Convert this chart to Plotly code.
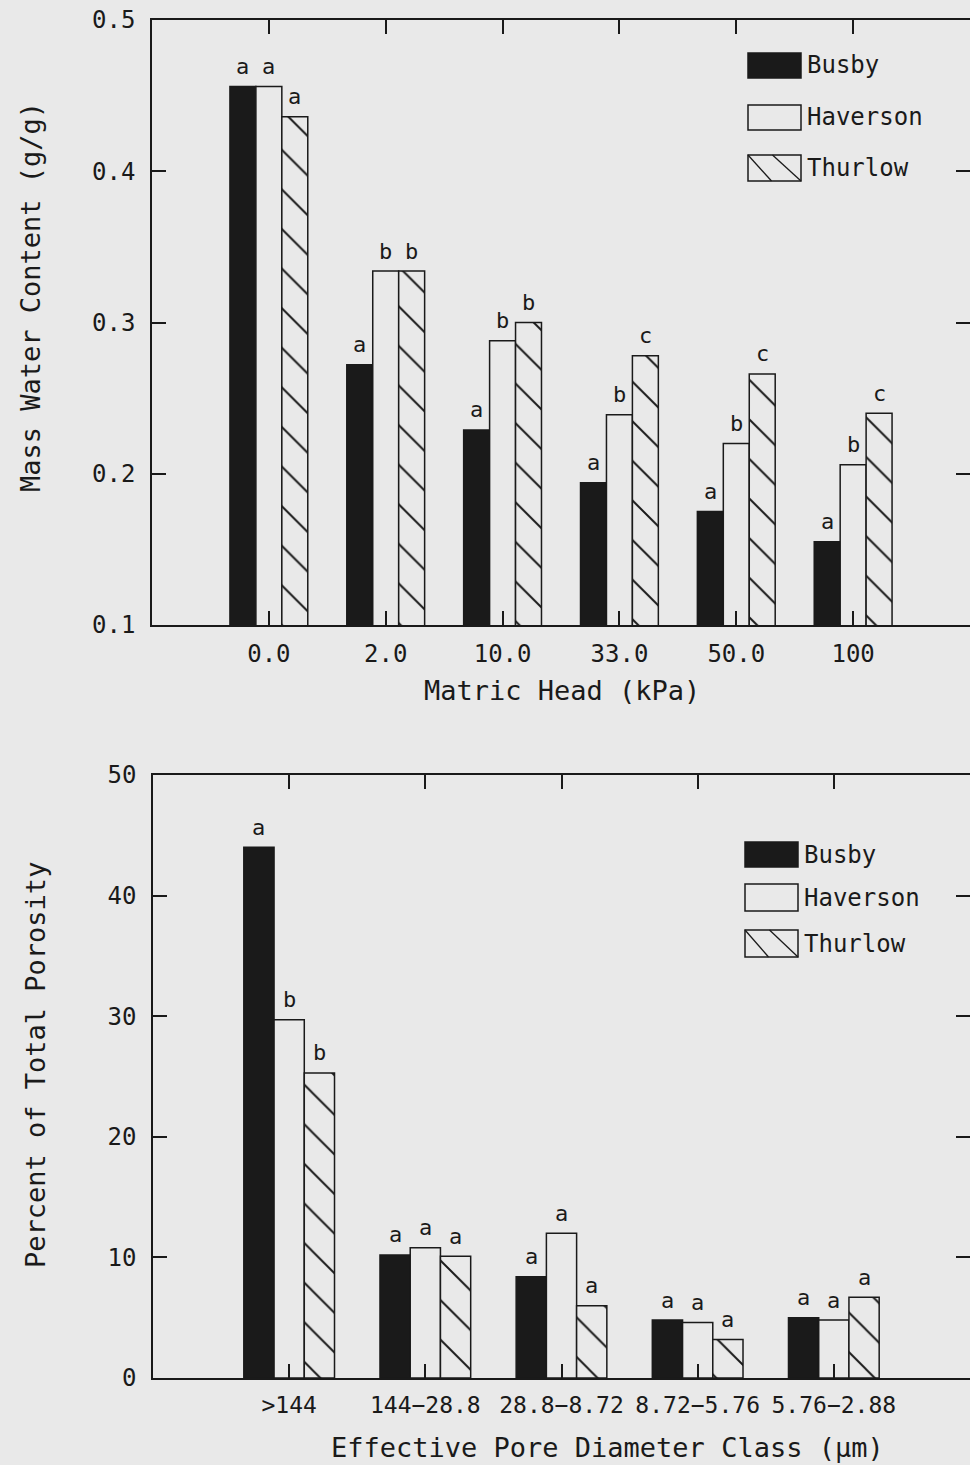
import plotly.graph_objects as go

# ---------------- data ----------------
heads = ["0.0", "2.0", "10.0", "33.0", "50.0", "100"]
busby_wc = [0.456, 0.272, 0.229, 0.194, 0.175, 0.155]
haverson_wc = [0.456, 0.334, 0.288, 0.239, 0.220, 0.206]
thurlow_wc = [0.436, 0.334, 0.300, 0.278, 0.266, 0.240]
busby_wc_sig = ["a", "a", "a", "a", "a", "a"]
haverson_wc_sig = ["a", "b", "b", "b", "b", "b"]
thurlow_wc_sig = ["a", "b", "b", "c", "c", "c"]

pores = [">144", "144\u221228.8", "28.8\u22128.72", "8.72\u22125.76", "5.76\u22122.88"]
busby_por = [44.0, 10.2, 8.4, 4.8, 5.0]
haverson_por = [29.7, 10.8, 12.0, 4.6, 4.8]
thurlow_por = [25.3, 10.1, 6.0, 3.2, 6.7]
busby_por_sig = ["a", "a", "a", "a", "a"]
haverson_por_sig = ["b", "a", "a", "a", "a"]
thurlow_por_sig = ["b", "a", "a", "a", "a"]

soils = ["Busby", "Haverson", "Thurlow"]

# ---------------- style ----------------
W, H = 970, 1465
BG = "#e9e9e9"
INK = "#1a1a1a"
FONT = "DejaVu Sans Mono"
BARGAP = 0.334


def px(x):
    return x / W


def py(y):
    return 1 - y / H


fig = go.Figure()


def add_bars(cats, vals, sigs, xa, ya, dom, rng):
    styles = [
        dict(color=INK),
        dict(color=BG),
        dict(color=BG, pattern=dict(shape="\\", size=28, solidity=0.07,
                                    fgcolor=INK, bgcolor=BG, fillmode="replace")),
    ]
    # width of one bar in pixels (for placing the significance letters)
    bar_px = (dom[1] - dom[0]) * W / (rng[1] - rng[0]) * (1 - BARGAP) / 3
    for k, (name, v, s, st) in enumerate(zip(soils, vals, sigs, styles)):
        fig.add_trace(go.Bar(
            x=cats, y=v, name=name, xaxis=xa, yaxis=ya,
            cliponaxis=False, showlegend=False,
            marker=dict(line=dict(color=INK, width=1.5), **st),
        ))
        for ci, (val, letter) in enumerate(zip(v, s)):
            # numeric category index (category serial number on the axis)
            fig.add_annotation(x=ci, y=val, text=letter, xref=xa, yref=ya,
                               xshift=(k - 1) * bar_px, yshift=20,
                               xanchor="center", yanchor="middle",
                               showarrow=False,
                               font=dict(family=FONT, size=22, color=INK))


TOP_XDOM, TOP_XRNG = [px(152), 1], [-1, 6]
BOT_XDOM, BOT_XRNG = [px(153), 1], [-1, 5]

add_bars(heads, [busby_wc, haverson_wc, thurlow_wc],
         [busby_wc_sig, haverson_wc_sig, thurlow_wc_sig], "x", "y",
         TOP_XDOM, TOP_XRNG)
add_bars(pores, [busby_por, haverson_por, thurlow_por],
         [busby_por_sig, haverson_por_sig, thurlow_por_sig], "x2", "y2",
         BOT_XDOM, BOT_XRNG)

axis_common = dict(showline=True, linecolor=INK, linewidth=1.5, mirror="ticks",
                   ticks="inside", ticklen=14, tickwidth=1.5, tickcolor=INK,
                   showgrid=False, zeroline=False, automargin=False)

tf24 = dict(family=FONT, size=24, color=INK)
tf23 = dict(family=FONT, size=23, color=INK)

fig.update_layout(
    width=W, height=H,
    margin=dict(l=0, r=0, t=0, b=0, pad=0, autoexpand=False),
    paper_bgcolor=BG, plot_bgcolor=BG,
    barmode="group", bargap=BARGAP, bargroupgap=0,
    showlegend=False,
    xaxis=dict(domain=TOP_XDOM, anchor="y", type="category",
               range=TOP_XRNG, ticklabelstandoff=6, tickfont=tf24, **axis_common),
    yaxis=dict(domain=[py(625), py(20)], anchor="x", range=[0.1, 0.5],
               dtick=0.1, tickformat=".1f", ticklabelstandoff=10,
               tickfont=tf24, **axis_common),
    xaxis2=dict(domain=BOT_XDOM, anchor="y2", type="category",
                range=BOT_XRNG, ticklabelstandoff=6, tickfont=tf23, **axis_common),
    yaxis2=dict(domain=[py(1378), py(775)], anchor="x2", range=[0, 50],
                dtick=10, ticklabelstandoff=10, tickfont=tf24, **axis_common),
)

# ---------------- titles ----------------
title_font = dict(family=FONT, size=27, color=INK)


def title(text, x, y, angle=0):
    fig.add_annotation(text=text, x=px(x), y=py(y), xref="paper", yref="paper",
                       xanchor="center", yanchor="middle", textangle=angle,
                       showarrow=False, font=title_font)


title("Mass Water Content (g/g)", 30, 297, -90)
title("Matric Head (kPa)", 562, 690)
title("Percent of Total Porosity", 35, 1065, -90)
title("Effective Pore Diameter Class (\u03bcm)", 607, 1447)


# ---------------- legends (drawn) ----------------
def legend(x0, x1, rows, tx):
    for i, (y0, y1) in enumerate(rows):
        fill = INK if i == 0 else BG
        fig.add_shape(type="rect", xref="paper", yref="paper",
                      x0=px(x0), x1=px(x1), y0=py(y1), y1=py(y0),
                      line=dict(color=INK, width=1.5), fillcolor=fill)
        if i == 2:
            mid = (x0 + x1) / 2
            fig.add_shape(type="line", xref="paper", yref="paper",
                          x0=px(x0), y0=py(y0), x1=px(mid - 3), y1=py(y1),
                          line=dict(color=INK, width=1.3))
            fig.add_shape(type="line", xref="paper", yref="paper",
                          x0=px(mid - 2), y0=py(y0), x1=px(x1), y1=py(y1),
                          line=dict(color=INK, width=1.3))
        fig.add_annotation(text=soils[i], x=px(tx), y=py((y0 + y1) / 2),
                           xref="paper", yref="paper", xanchor="left",
                           yanchor="middle", showarrow=False,
                           font=dict(family=FONT, size=24, color=INK))


legend(748, 801, [(53, 78), (105, 130), (155, 181)], 805)
legend(745, 798, [(842, 867), (884, 911), (930, 957)], 802)

fig.write_html("out.html")
